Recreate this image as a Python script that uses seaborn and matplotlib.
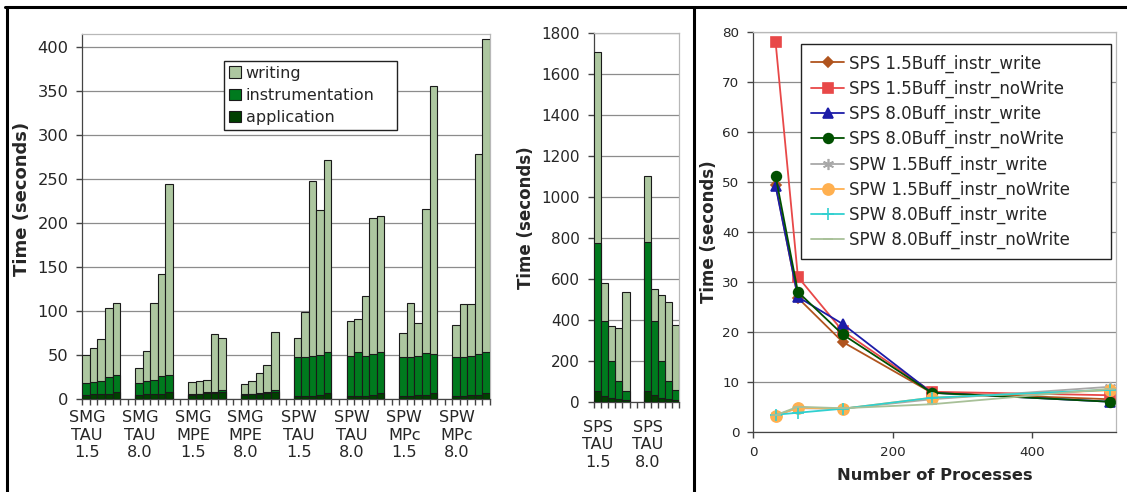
import numpy as np
import pandas as pd
import seaborn as sns
import matplotlib.pyplot as plt
from matplotlib.lines import Line2D

sns.set_style("white")
plt.rcParams['font.family'] = ['DejaVu Sans']
plt.rcParams['xtick.bottom'] = True
plt.rcParams['ytick.left'] = True

# LEFT PANEL DATA (5 runs per configuration)
left_groups = ["SMG\nTAU\n1.5", "SMG\nTAU\n8.0", "SMG\nMPE\n1.5", "SMG\nMPE\n8.0",
               "SPW\nTAU\n1.5", "SPW\nTAU\n8.0", "SPW\nMPc\n1.5", "SPW\nMPc\n8.0"]
left_app = [5, 5.7, 6.4, 6.4, 8,
            5, 5.7, 6.4, 6.4, 8,
            5, 5.5, 7, 7, 8.5,
            5, 5.5, 6, 7, 8.5,
            3.4, 3.4, 4.2, 5, 6.8,
            3.4, 3.4, 4.2, 5, 6.8,
            3.8, 3.8, 4.5, 5, 6.8,
            3.8, 3.8, 4.5, 5, 7]
left_instr = [13.2, 13.6, 14.6, 18.6, 19.3,
              13.6, 15.2, 15.6, 20.1, 20,
              1, 1, 1.5, 1.7, 2.1,
              0.7, 0.9, 1.2, 1.3, 2.1,
              44.8, 44.8, 44.8, 45.4, 46.7,
              45.6, 50.5, 45.1, 46.6, 46.7,
              44, 44, 44.5, 47.3, 45.1,
              44, 44, 44.5, 47, 47.2]
left_write = [31.8, 39.2, 47, 79, 82.7,
              16.7, 33.7, 87, 116.5, 217,
              13.7, 14, 13.5, 65.6, 58.8,
              11.3, 14.1, 22.4, 30.7, 65.6,
              22, 51.5, 199.7, 164.6, 218.5,
              39.7, 37.5, 68.3, 154.4, 155.1,
              28, 61.4, 37.5, 163.7, 304.6,
              36.7, 60.7, 59.5, 226.7, 355.4]

# MIDDLE PANEL DATA
mid_groups = ["SPS\nTAU\n1.5", "SPS\nTAU\n8.0"]
mid_app = [52, 29, 16, 11, 8,
           52, 31, 18, 13, 10]
mid_instr = [725.5, 364, 184.5, 91.7, 45.8,
             729, 365, 182.5, 89.7, 47]
mid_write = [932.5, 189, 169.5, 256.3, 484.2,
             324, 155, 319.5, 384.3, 316]

# RIGHT PANEL DATA
procs = [32, 64, 128, 256, 512]
sps15_write = [49.5, 26.8, 18, 7.8, 6.5]
sps15_nowrite = [78, 31, 20.2, 8.0, 7.3]
sps80_write = [49.2, 27, 21.6, 7.8, 6.0]
sps80_nowrite = [51.2, 28, 19.5, 7.8, 6.0]
spw15_write = [3.3, 4.7, 4.6, 6.5, 9.0]
spw15_nowrite = [3.2, 4.8, 4.6, 6.8, 8.3]
spw80_write = [3.4, 3.8, 4.6, 6.8, 8.4]
spw80_nowrite = [3.3, 5.0, 4.7, 5.5, 8.6]

line_names = ["SPS 1.5Buff_instr_write", "SPS 1.5Buff_instr_noWrite",
              "SPS 8.0Buff_instr_write", "SPS 8.0Buff_instr_noWrite",
              "SPW 1.5Buff_instr_write", "SPW 1.5Buff_instr_noWrite",
              "SPW 8.0Buff_instr_write", "SPW 8.0Buff_instr_noWrite"]
line_vals = [sps15_write, sps15_nowrite, sps80_write, sps80_nowrite,
             spw15_write, spw15_nowrite, spw80_write, spw80_nowrite]
line_styles = [("#b0541e", "D", 5), ("#e84848", "s", 7), ("#1c1ca8", "^", 7),
               ("#005000", "o", 7), ("#a8a8a8", (6, 2, 0), 8), ("#ffb050", "o", 8),
               ("#30d0d0", "+", 9), ("#a8c098", "_", 7)]

C_WRITE = "#adc7a0"
C_INSTR = "#007a1e"
C_APP = "#004000"
GRID = "#8c8c8c"
AXC = "#444444"


def stacked(ax, groups, app, instr, write, lab_off, lab_pad, fs):
    n_grp = len(groups)
    n_slots = 7 * n_grp - 2
    slots = [f"s{i}" for i in range(n_slots)]
    pos = [7 * g + j for g in range(n_grp) for j in range(5)]
    app = np.array(app)
    top_i = app + np.array(instr)
    total = top_i + np.array(write)
    df = pd.DataFrame({"slot": [slots[p] for p in pos],
                       "app": app, "instr": top_i, "total": total})
    for col, color, lab in [("total", C_WRITE, "writing"),
                            ("instr", C_INSTR, "instrumentation"),
                            ("app", C_APP, "application")]:
        sns.barplot(data=df, x="slot", y=col, order=slots, color=color,
                    saturation=1, width=1, edgecolor="#1a1a1a", linewidth=0.8,
                    errorbar=None, label=lab, ax=ax, zorder=3)
    ax.set_xlim(-0.5, n_slots - 0.5)
    ax.set_xticks([7 * g + lab_off for g in range(n_grp)])
    ax.set_xticklabels(groups, fontsize=fs, linespacing=1.2)
    ax.set_xticks(np.arange(-0.5, n_slots, 1), minor=True)
    ax.tick_params(axis="x", which="major", length=0, pad=lab_pad)
    ax.tick_params(axis="x", which="minor", length=4, width=1.0,
                   color=AXC, direction="out", bottom=True)
    ax.set_xlabel("")
    ax.yaxis.grid(True, color=GRID, linewidth=0.9, zorder=0)
    ax.set_axisbelow(True)


def style_axes(ax):
    for s in ["top", "right"]:
        ax.spines[s].set_color("#b8b8b8")
        ax.spines[s].set_linewidth(0.9)
    for s in ["left", "bottom"]:
        ax.spines[s].set_color(AXC)
        ax.spines[s].set_linewidth(0.9)
    ax.tick_params(axis="y", length=4, width=1.0, color=AXC, direction="out",
                   left=True)


fig = plt.figure(figsize=(11.27, 4.92), dpi=100)

# left panel
ax1 = fig.add_axes([82.3 / 1127, 1 - 399.3 / 492, 407.7 / 1127, 365 / 492])
stacked(ax1, left_groups, left_app, left_instr, left_write, 0.15, 8, 11.6)
ax1.set_ylim(0, 415)
ax1.set_yticks(np.arange(0, 401, 50))
style_axes(ax1)
ax1.tick_params(axis="y", labelsize=11.7, pad=6)
ax1.set_ylabel("Time (seconds)", fontsize=13, fontweight="bold")
ax1.yaxis.set_label_coords(-0.125, 0.55)
leg1 = ax1.legend(loc="upper left", bbox_to_anchor=(0.348, 0, 0.424, 0.927),
                  mode="expand", fontsize=11.5,
                  frameon=True, fancybox=False, edgecolor="#222222", framealpha=1,
                  handlelength=0.75, handleheight=0.75, handletextpad=0.3,
                  labelspacing=0.45, borderpad=0.3, borderaxespad=0)
leg1.get_frame().set_linewidth(1.0)

# middle panel
ax2 = fig.add_axes([594 / 1127, 1 - 401.7 / 492, 85.3 / 1127, 368.4 / 492])
stacked(ax2, mid_groups, mid_app, mid_instr, mid_write, 0.05, 13, 11.5)
ax2.set_ylim(0, 1800)
ax2.set_yticks(np.arange(0, 1801, 200))
style_axes(ax2)
ax2.tick_params(axis="y", labelsize=11, pad=6)
ax2.set_ylabel("Time (seconds)", fontsize=12, fontweight="bold")
ax2.yaxis.set_label_coords(-0.69, 0.5)
ax2.get_legend().remove()

# right panel
ax3 = fig.add_axes([753.3 / 1127, 1 - 431.7 / 492, 362.4 / 1127, 399.4 / 492])
for name, vals, (c, m, ms) in zip(line_names, line_vals, line_styles):
    sns.lineplot(x=procs, y=vals, color=c, marker=m, markersize=ms,
                 markeredgecolor=c, markerfacecolor=c, markeredgewidth=1.2,
                 linewidth=1.3, label=name, ax=ax3)
ax3.set_xlim(0, 520)
ax3.set_ylim(0, 80)
ax3.set_xticks([0, 200, 400])
ax3.set_yticks(np.arange(0, 81, 10))
ax3.yaxis.grid(True, color=GRID, linewidth=0.9)
ax3.set_axisbelow(True)
style_axes(ax3)
ax3.tick_params(axis="x", length=4, width=1.0, color=AXC, direction="out",
                labelsize=9.7, pad=6, bottom=True)
ax3.tick_params(axis="y", labelsize=9.7, pad=6)
ax3.set_xlabel("Number of Processes", fontsize=11.8, fontweight="bold")
ax3.xaxis.set_label_coords(0.5, -0.09)
ax3.set_ylabel("Time (seconds)", fontsize=12, fontweight="bold")
ax3.yaxis.set_label_coords(-0.097, 0.5)
leg3 = ax3.legend(loc="upper left", bbox_to_anchor=(0.1316, 0, 0.855, 0.97),
                  mode="expand", fontsize=12,
                  frameon=True, fancybox=False, edgecolor="#222222", framealpha=1,
                  handlelength=2.0, handletextpad=0.3, labelspacing=0.42,
                  borderpad=0.6, borderaxespad=0)
leg3.get_frame().set_linewidth(1.0)

# panel frames
for xs, ys in [([0.004, 1.0], [0.9858, 0.9858]),
               ([0.0058, 0.0058], [0.0, 0.9858]),
               ([0.6162, 0.6162], [0.0, 0.9858])]:
    fig.add_artist(Line2D(xs, ys, transform=fig.transFigure, color="black", lw=2.2))

plt.savefig("out.png", dpi=100)
